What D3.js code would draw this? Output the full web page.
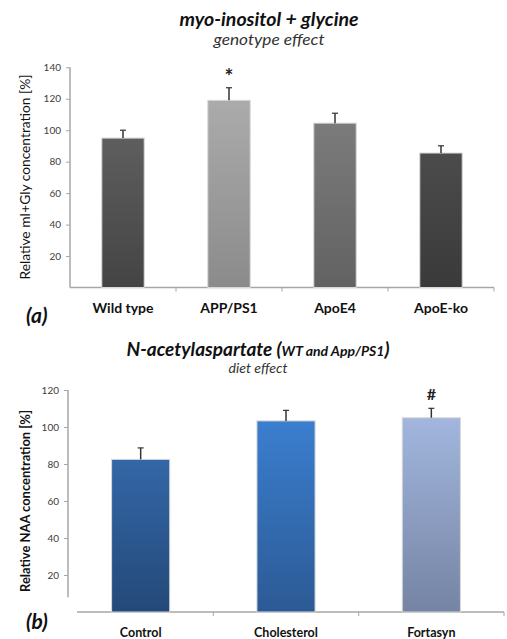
<!DOCTYPE html>
<html>
<head>
<meta charset="utf-8">
<script src="https://cdn.jsdelivr.net/npm/d3@7"></script>
<style>
  body { margin: 0; background: #fff; }
  text { font-family: Lato, "Open Sans", sans-serif; }
</style>
</head>
<body>
<svg width="507" height="639"></svg>
<script>
// Panel (a): genotype effect
const genoCats = ["Wild type", "APP/PS1", "ApoE4", "ApoE-ko"];
const genoValues = [95, 119, 104.5, 85.5];
const genoErrors = [5, 8, 6.3, 4.6];
const genoTop = ["#5e5e5e", "#ababab", "#7b7b7b", "#4b4b4b"];
const genoBottom = ["#444444", "#8b8b8b", "#626262", "#3a3a3a"];
const genoTicks = [20, 40, 60, 80, 100, 120, 140];

// Panel (b): diet effect
const dietCats = ["Control", "Cholesterol", "Fortasyn"];
const dietValues = [82.5, 103.3, 105];
const dietErrors = [6.2, 5.7, 5.1];
const dietTop = ["#3467a7", "#3b7ecf", "#a2b6de"];
const dietBottom = ["#234979", "#2c5a95", "#7584a3"];
const dietTicks = [20, 40, 60, 80, 100, 120];

const svg = d3.select("svg");
const axisCol = "#a6a6a6";
const defs = svg.append("defs");

function gradient(id, top, bottom) {
    const g = defs.append("linearGradient").attr("id", id)
        .attr("x1", 0).attr("y1", 0).attr("x2", 0).attr("y2", 1);
    g.append("stop").attr("offset", "0%").attr("stop-color", top);
    g.append("stop").attr("offset", "100%").attr("stop-color", bottom);
}

function drawPanel(opt) {
    const x = d3.scaleBand().domain(opt.cats).range(opt.xRange);
    const y = d3.scaleLinear().domain(opt.yDomain).range(opt.yRange);
    const g = svg.append("g");

    // y axis
    const yAxis = g.append("g")
        .attr("transform", `translate(${opt.xRange[0]},0)`)
        .call(d3.axisLeft(y).tickValues(opt.ticks).tickSize(4).tickSizeOuter(0).tickPadding(5));
    yAxis.select(".domain").remove();
    yAxis.selectAll(".tick line").attr("stroke", axisCol);
    yAxis.selectAll(".tick text").attr("fill", "#404040").style("font-size", "10px");
    g.append("line")
        .attr("x1", opt.xRange[0]).attr("x2", opt.xRange[0])
        .attr("y1", y(opt.yDomain[1])).attr("y2", y(opt.yAxisEnd))
        .attr("stroke", axisCol).attr("stroke-width", 1.5);

    // x axis
    g.append("line")
        .attr("x1", opt.xAxisStart).attr("x2", opt.xRange[1])
        .attr("y1", y(0)).attr("y2", y(0))
        .attr("stroke", axisCol).attr("stroke-width", 1.5);
    g.selectAll(".xtick")
        .data(opt.cats.slice(1).map(c => x(c)).concat([opt.xRange[1]]))
        .join("line")
        .attr("x1", d => d).attr("x2", d => d)
        .attr("y1", y(0)).attr("y2", y(0) + 4)
        .attr("stroke", axisCol);

    // bars
    const bw = x.bandwidth() * 0.4;
    opt.cats.forEach((c, i) => gradient(opt.id + i, opt.top[i], opt.bottom[i]));
    g.selectAll(".bar")
        .data(opt.values)
        .join("rect")
        .attr("x", (d, i) => x(opt.cats[i]) + (x.bandwidth() - bw) / 2)
        .attr("width", bw)
        .attr("y", d => y(d))
        .attr("height", d => y(0) - y(d))
        .attr("fill", (d, i) => `url(#${opt.id}${i})`)
        .attr("stroke", "#d8d8d8").attr("stroke-width", 1);

    // error bars
    const cx = i => x(opt.cats[i]) + x.bandwidth() / 2;
    opt.values.forEach((v, i) => {
        const e = v + opt.errors[i];
        g.append("line")
            .attr("x1", cx(i)).attr("x2", cx(i))
            .attr("y1", y(v)).attr("y2", y(e))
            .attr("stroke", "#333").attr("stroke-width", 1.5);
        g.append("line")
            .attr("x1", cx(i) - 3).attr("x2", cx(i) + 3)
            .attr("y1", y(e)).attr("y2", y(e))
            .attr("stroke", "#333").attr("stroke-width", 1.2);
    });

    // category labels
    g.selectAll(".xlab")
        .data(opt.cats)
        .join("text")
        .attr("x", (d, i) => cx(i))
        .attr("y", opt.labelY)
        .attr("text-anchor", "middle")
        .style("font-size", opt.labelSize).style("font-weight", "bold")
        .attr("fill", "#111")
        .text(d => d);

    // significance mark
    g.append("text")
        .attr("x", cx(opt.mark.i)).attr("y", opt.mark.y)
        .attr("text-anchor", "middle")
        .style("font-size", opt.mark.size).style("font-weight", "bold")
        .attr("fill", "#222")
        .text(opt.mark.t);

    // y label
    g.append("text")
        .attr("transform", `translate(${opt.yLabel.x},${opt.yLabel.y}) rotate(-90)`)
        .attr("text-anchor", "middle")
        .attr("textLength", opt.yLabel.len).attr("lengthAdjust", "spacingAndGlyphs")
        .style("font-size", "13px").style("font-weight", opt.yLabel.weight)
        .attr("fill", "#111")
        .text(opt.yLabel.t);

    // panel letter
    g.append("text")
        .attr("x", 26).attr("y", opt.letterY)
        .style("font-size", "21px").style("font-weight", "bold").style("font-style", "italic")
        .attr("fill", "#111")
        .text(opt.letter);

    return { x, y };
}

drawPanel({
    id: "ga", cats: genoCats, values: genoValues, errors: genoErrors,
    top: genoTop, bottom: genoBottom, ticks: genoTicks,
    xRange: [70, 494], xAxisStart: 70, yDomain: [0, 140], yRange: [287.5, 67.3], yAxisEnd: 0,
    labelY: 313, labelSize: "14px", mark: { i: 1, y: 84, t: "*", size: "21px" },
    yLabel: { x: 30, y: 177, len: 205, weight: "normal", t: "Relative mI+Gly concentration [%]" },
    letter: "(a)", letterY: 323
});

drawPanel({
    id: "gb", cats: dietCats, values: dietValues, errors: dietErrors,
    top: dietTop, bottom: dietBottom, ticks: dietTicks,
    xRange: [68, 504], xAxisStart: 77, yDomain: [0, 120], yRange: [612, 390], yAxisEnd: 8,
    labelY: 637, labelSize: "12.5px", mark: { i: 2, y: 400, t: "#", size: "16px" },
    yLabel: { x: 30, y: 501, len: 182, weight: "bold", t: "Relative NAA concentration  [%]" },
    letter: "(b)", letterY: 629
});

// titles
svg.append("text")
    .attr("x", 269).attr("y", 26).attr("text-anchor", "middle")
    .attr("textLength", 179).attr("lengthAdjust", "spacingAndGlyphs")
    .style("font-size", "19px").style("font-weight", "bold").style("font-style", "italic")
    .attr("fill", "#111")
    .text("myo-inositol + glycine");
svg.append("text")
    .attr("x", 269).attr("y", 45).attr("text-anchor", "middle")
    .attr("textLength", 111).attr("lengthAdjust", "spacingAndGlyphs")
    .style("font-size", "15px").style("font-style", "italic")
    .attr("fill", "#333")
    .text("genotype effect");

const t2 = svg.append("text")
    .attr("x", 258).attr("y", 356).attr("text-anchor", "middle")
    .attr("textLength", 263).attr("lengthAdjust", "spacingAndGlyphs")
    .style("font-weight", "bold").style("font-style", "italic")
    .attr("fill", "#111");
t2.append("tspan").style("font-size", "19px").text("N-acetylaspartate (");
t2.append("tspan").style("font-size", "14px").text("WT and App/PS1");
t2.append("tspan").style("font-size", "19px").text(")");
svg.append("text")
    .attr("x", 258).attr("y", 373).attr("text-anchor", "middle")
    .attr("textLength", 59).attr("lengthAdjust", "spacingAndGlyphs")
    .style("font-size", "14px").style("font-style", "italic")
    .attr("fill", "#333")
    .text("diet effect");
</script>
</body>
</html>
